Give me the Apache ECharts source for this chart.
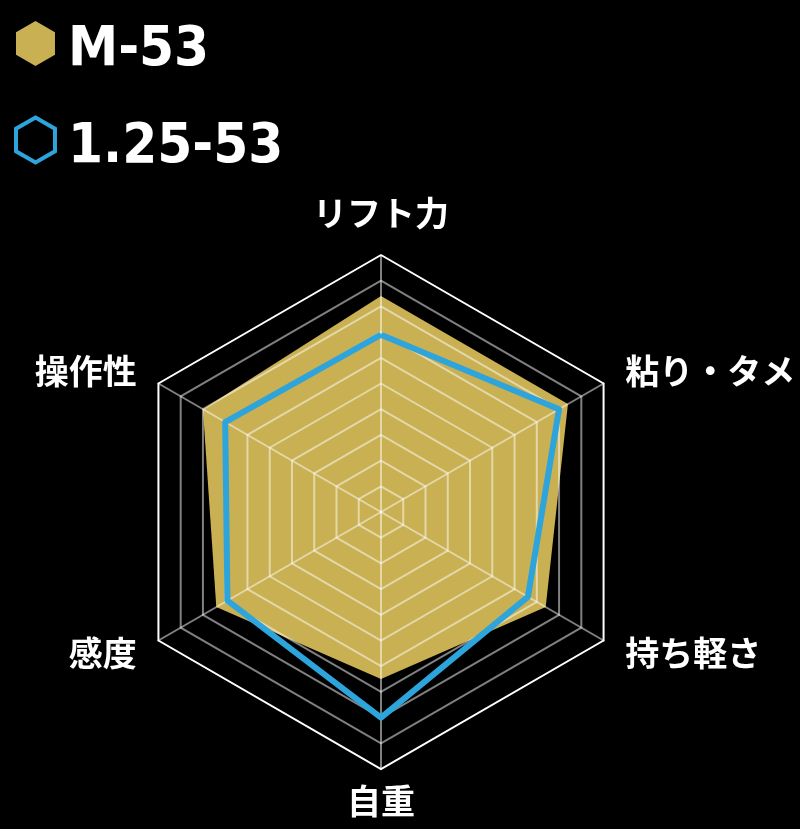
<!DOCTYPE html>
<html>
<head>
<meta charset="utf-8">
<style>
  html, body { margin: 0; padding: 0; background: #000; }
  #chart { width: 800px; height: 829px; }
</style>
<script src="https://cdn.jsdelivr.net/npm/echarts@6/dist/echarts.min.js"></script>
</head>
<body>
<div id="chart"></div>
<script>
// Indicators in ECharts order (top, then counter-clockwise)
const indicatorNames = ['リフト力', '操作性', '感度', '自重', '持ち軽さ', '粘り・タメ'];
const indicatorMax = 100;
const seriesNames = ['M-53', '1.25-53'];
const valuesM53 = [84, 80, 74, 65, 74, 84];
const values125 = [69, 70, 69, 80, 66, 80];

const GOLD = '#c9b052';
const BLUE = '#2da4dc';
const HEX = 'path://M0,-1 L0.866,-0.5 L0.866,0.5 L0,1 L-0.866,0.5 L-0.866,-0.5 Z';

const ringColors = [];
for (let i = 0; i < 10; i++) ringColors.push('rgba(255,255,255,0.5)');
ringColors.push('#ffffff');

const nameFont = {
  color: '#fff',
  fontSize: 34,
  fontWeight: 'bold',
  fontFamily: '"Noto Sans CJK JP", sans-serif'
};
const legendFont = {
  color: '#fff',
  fontSize: 56,
  fontWeight: 'bold',
  fontFamily: '"DejaVu Sans Condensed", "DejaVu Sans"'
};

const chart = echarts.init(document.getElementById('chart'));
chart.setOption({
  backgroundColor: '#000',
  animation: false,
  legend: {
    orient: 'vertical',
    left: 9,
    top: 16,
    itemWidth: 39,
    itemHeight: 45,
    itemGap: 37,
    icon: HEX,
    selectedMode: false,
    formatter: function (name) { return '{t|' + name + '}'; },
    textStyle: Object.assign({}, legendFont, {
      rich: { t: Object.assign({}, legendFont, { padding: [14, 0, 0, 8] }) }
    }),
    data: [
      { name: seriesNames[0], itemStyle: { color: GOLD, borderWidth: 0 } },
      { name: seriesNames[1], itemStyle: { color: 'rgba(0,0,0,0)', borderColor: BLUE, borderWidth: 4 } }
    ]
  },
  radar: {
    z: 3,
    center: [381, 512],
    radius: 257,
    startAngle: 90,
    splitNumber: 10,
    shape: 'polygon',
    axisNameGap: 25,
    axisName: Object.assign({}, nameFont, {
      formatter: function (name) {
        return name === '自重' ? '{b|' + name + '}' : name;
      },
      rich: {
        b: Object.assign({}, nameFont, { lineHeight: 14 })
      }
    }),
    indicator: indicatorNames.map(n => ({ name: n, min: 0, max: indicatorMax })),
    axisLine: { lineStyle: { color: 'rgba(255,255,255,0.5)', width: 2 } },
    splitLine: { lineStyle: { color: ringColors, width: 2 } },
    splitArea: { show: false },
    axisTick: { show: false },
    axisLabel: { show: false }
  },
  series: [
    {
      type: 'radar',
      z: 2,
      symbol: 'none',
      itemStyle: { color: GOLD },
      lineStyle: { width: 0, opacity: 0 },
      areaStyle: { color: GOLD, opacity: 1 },
      data: [{ name: seriesNames[0], value: valuesM53 }]
    },
    {
      type: 'radar',
      z: 5,
      symbol: 'none',
      itemStyle: { color: BLUE },
      lineStyle: { color: BLUE, width: 6 },
      data: [{ name: seriesNames[1], value: values125 }]
    }
  ]
});
</script>
</body>
</html>
